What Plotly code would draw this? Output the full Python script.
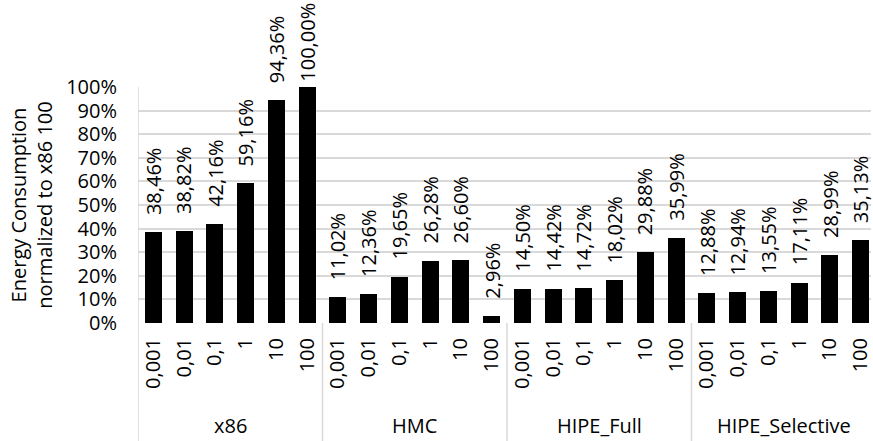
import plotly.graph_objects as go

# Energy consumption per platform, normalized to x86 at size 100
groups = ["x86", "HMC", "HIPE_Full", "HIPE_Selective"]
sizes = ["0,001", "0,01", "0,1", "1", "10", "100"]

x86 = [38.46, 38.82, 42.16, 59.16, 94.36, 100.00]
hmc = [11.02, 12.36, 19.65, 26.28, 26.60, 2.96]
hipe_full = [14.50, 14.42, 14.72, 18.02, 29.88, 35.99]
hipe_selective = [12.88, 12.94, 13.55, 17.11, 28.99, 35.13]

y_ticks = [0, 10, 20, 30, 40, 50, 60, 70, 80, 90, 100]

series = [x86, hmc, hipe_full, hipe_selective]
values = [v for s in series for v in s]
positions = list(range(len(values)))
cat_labels = sizes * len(groups)

FONT = "Open Sans"
FS = 20
W, H = 873, 441
M_L, M_T, M_B = 138, 87, 118
PLOT_H = H - M_T - M_B
GRID = "#d9d9d9"


def pct(v):
    return f"{v:.2f}".replace(".", ",") + "%"


fig = go.Figure()
fig.add_trace(go.Bar(
    x=positions,
    y=[v / 100 for v in values],
    width=0.55,
    marker=dict(color="black", line=dict(width=0)),
    hoverinfo="skip",
))

# value labels, rotated above each bar; pushed down when they would leave the figure
annotations = []
for x, v in zip(positions, values):
    txt = pct(v)
    bar_top_px = M_T + PLOT_H * (1 - v / 100)
    est_len = len(txt) * 11.3
    shift = min(15, bar_top_px - est_len - 5)
    annotations.append(dict(
        x=x, y=v / 100, xref="x", yref="y",
        text=txt, showarrow=False, textangle=-90,
        xanchor="center", yanchor="bottom", yshift=shift,
        font=dict(family=FONT, size=FS, color="black"),
    ))

# group labels below the size labels
n = len(sizes)
for gi, g in enumerate(groups):
    annotations.append(dict(
        x=gi * n + (n - 1) / 2, y=-(M_B - 16) / PLOT_H, xref="x", yref="paper",
        text=g, showarrow=False, xanchor="center", yanchor="middle",
        font=dict(family=FONT, size=FS, color="black"),
    ))

# category dividers and left border
shapes = [dict(type="line", xref="x", yref="paper", x0=-0.5, x1=-0.5,
               y0=1, y1=-M_B / PLOT_H, line=dict(color=GRID, width=1.5))]
for gi in range(1, len(groups)):
    xb = gi * n - 0.5
    shapes.append(dict(type="line", xref="x", yref="paper", x0=xb, x1=xb,
                       y0=0, y1=-M_B / PLOT_H, line=dict(color=GRID, width=1.5)))

fig.update_layout(
    width=W, height=H,
    margin=dict(l=M_L, r=0, t=M_T, b=M_B, pad=0),
    paper_bgcolor="white", plot_bgcolor="white",
    showlegend=False,
    font=dict(family=FONT, size=FS, color="black"),
    annotations=annotations,
    shapes=shapes,
    bargap=0,
)
fig.update_xaxes(
    range=[-0.5, -0.5 + (W - M_L) / (185 / 6)],
    tickmode="array", tickvals=positions, ticktext=cat_labels,
    tickangle=-90, ticks="", showgrid=False, zeroline=False,
    showline=False, ticklabelstandoff=10, ticklabeloverflow="allow",
    tickfont=dict(family=FONT, size=FS, color="black"),
)
fig.update_yaxes(
    range=[0, 1],
    tickmode="array", tickvals=[t / 100 for t in y_ticks],
    ticktext=[f"{t}%" for t in y_ticks],
    ticks="", showgrid=True, gridcolor=GRID, gridwidth=1.5,
    zeroline=False, showline=False, ticklabelstandoff=20,
    tickfont=dict(family=FONT, size=FS, color="black"),
    title=dict(text="Energy Consumption<br>normalized to x86 100",
               font=dict(family=FONT, size=FS, color="black"), standoff=8),
)

fig.write_html("out.html")
